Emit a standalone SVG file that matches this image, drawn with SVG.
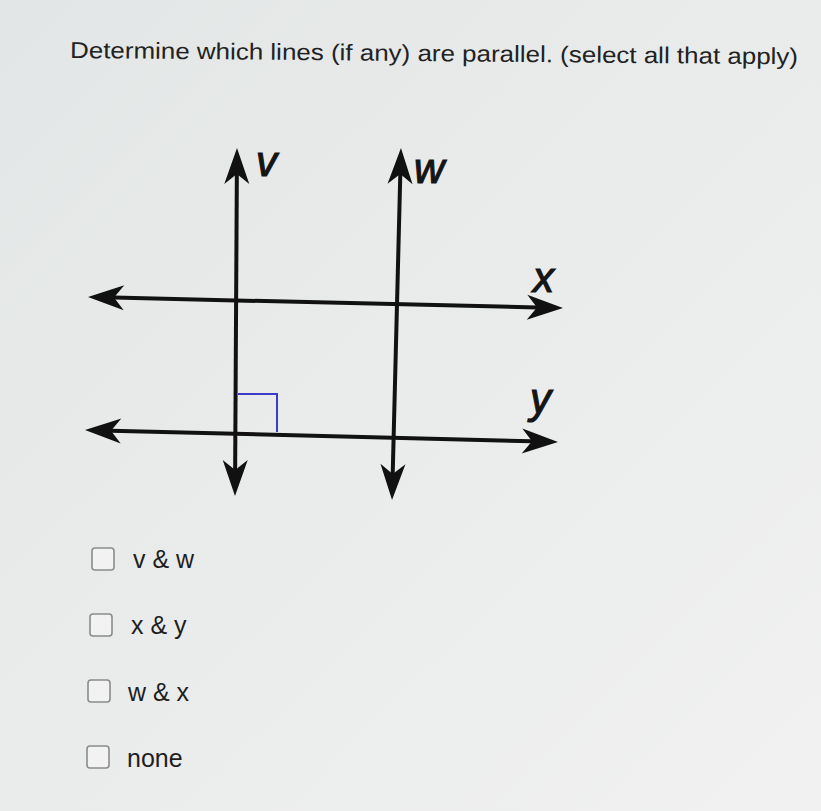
<svg xmlns="http://www.w3.org/2000/svg" width="821" height="811" viewBox="0 0 821 811">
  <defs>
    <linearGradient id="bg" x1="0" y1="0" x2="1" y2="1">
      <stop offset="0" stop-color="#e3e6e6"/>
      <stop offset="0.5" stop-color="#eaeceb"/>
      <stop offset="1" stop-color="#f0f1f0"/>
    </linearGradient>
    <marker id="arr" markerUnits="userSpaceOnUse" markerWidth="37" markerHeight="26" viewBox="0 -13 37 26" refX="10" refY="0" orient="auto-start-reverse" overflow="visible">
      <path d="M36,0 L0,-12.5 L10,0 L0,12.5 Z" fill="#111"/>
    </marker>
  </defs>
  <style>
    .title { font-family: "Liberation Sans", Arial, sans-serif; font-size: 23px; fill: #222; }
    .opt { font-family: "Liberation Sans", Arial, sans-serif; font-size: 25px; fill: #1e1e1e; }
    .lbl { font-family: "Liberation Sans", Arial, sans-serif; font-size: 42px; font-style: italic; fill: #151515; stroke: #151515; stroke-width: 1.2; }
    .line { stroke: #111; stroke-width: 4; fill: none; marker-start: url(#arr); marker-end: url(#arr); }
    .box { fill: #f1f2f1; stroke: #8a8c8c; stroke-width: 1.6; }
  </style>
  <rect x="0" y="0" width="821" height="811" fill="url(#bg)"/>

  <g id="title">
    <text class="title" x="70" y="58" textLength="728" lengthAdjust="spacingAndGlyphs" transform="rotate(0.5 70 58)">Determine which lines (if any) are parallel. (select all that apply)</text>
  </g>

  <g id="connectors">
    <path id="line-v" class="line" d="M236.85,174 L235.15,470"/>
    <path id="line-w" class="line" d="M400.3,174 L392.7,474"/>
    <path id="line-x" class="line" d="M114,297.6 L537,307.4"/>
    <path id="line-y" class="line" d="M111,430.7 L532,441.3"/>
  </g>

  <g id="right-angle">
    <path d="M238,394 L277,394 L277,432" fill="none" stroke="#3b3bcc" stroke-width="2"/>
  </g>

  <g id="label-v"><text class="lbl" x="256" y="176">v</text></g>
  <g id="label-w"><text class="lbl" x="414" y="183">w</text></g>
  <g id="label-x"><text class="lbl" x="533" y="292">x</text></g>
  <g id="label-y"><text class="lbl" x="530" y="413">y</text></g>

  <g id="option-1">
    <rect class="box" x="92" y="548" width="22" height="22" rx="3"/>
    <text class="opt" x="133" y="568">v &amp; w</text>
  </g>
  <g id="option-2">
    <rect class="box" x="90" y="614" width="22" height="22" rx="3"/>
    <text class="opt" x="131" y="634">x &amp; y</text>
  </g>
  <g id="option-3">
    <rect class="box" x="88" y="680" width="22" height="22" rx="3"/>
    <text class="opt" x="128" y="701">w &amp; x</text>
  </g>
  <g id="option-4">
    <rect class="box" x="87" y="746" width="22" height="22" rx="3"/>
    <text class="opt" x="127" y="767">none</text>
  </g>
</svg>
